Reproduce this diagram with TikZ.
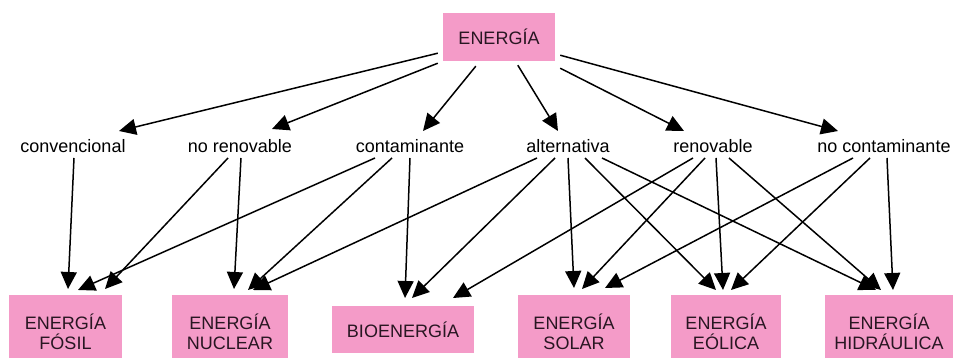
\documentclass[tikz,border=0pt]{standalone}
\usepackage{fontspec}
\setmainfont{Liberation Sans}
\usetikzlibrary{arrows.meta,calc}
\definecolor{boxpink}{RGB}{244,155,200}
\definecolor{txt}{RGB}{40,22,34}
\begin{document}
\begin{tikzpicture}[x=1pt,y=-1pt,
  box/.style={rectangle, fill=boxpink, inner sep=0pt, anchor=north, align=center, font=\fontsize{18}{20}\selectfont, text=txt},
  lab/.style={inner sep=0pt, anchor=base, font=\fontsize{18}{20}\selectfont, text=black},
  arr/.style={line width=1.5pt, -{Triangle[length=17pt,width=16pt]}}]
\useasboundingbox (0,0) rectangle (956,358);
\clip (0,0) rectangle (956,358);
\fill[white] (0,0) rectangle (956,358);

\node[box, anchor=center, minimum width=112pt, minimum height=48pt] (top) at (499,37) {ENERGÍA};

\node[lab] (conv) at (73,153) {convencional};
\node[lab] (norenov) at (240,153) {no renovable};
\node[lab] (contam) at (410,153) {contaminante};
\node[lab] (alter) at (568,153) {alternativa};
\node[lab] (renov) at (713,153) {renovable};
\node[lab] (nocont) at (884,153) {no contaminante};

\node[box, minimum width=113pt, minimum height=73pt] (fosil) at (65.5,295) {ENERGÍA\\FÓSIL};
\node[box, minimum width=116pt, minimum height=73pt] (nuclear) at (230,295) {ENERGÍA\\NUCLEAR};
\node[box, minimum width=142pt, minimum height=47pt] (bio) at (403,306) {BIOENERGÍA};
\node[box, minimum width=112pt, minimum height=73pt] (solar) at (574,295) {ENERGÍA\\SOLAR};
\node[box, minimum width=110pt, minimum height=73pt] (eolica) at (726,295) {ENERGÍA\\EÓLICA};
\node[box, minimum width=128pt, minimum height=73pt] (hidra) at (889,295) {ENERGÍA\\HIDRÁULICA};

% top level
\draw[arr] ($(top.south west)+(-5,-8)$) -- ($(conv.base)+(46,-22)$);
\draw[arr] ($(top.south west)+(-5,2)$) -- ($(norenov.base)+(32,-24)$);
\draw[arr] ($(top.south west)+(33,5)$) -- ($(contam.base)+(13,-22)$);
\draw[arr] ($(top.south west)+(75,4)$) -- ($(alter.base)+(-10,-22)$);
\draw[arr] ($(top.south east)+(5,7)$) -- ($(renov.base)+(-29,-22)$);
\draw[arr] ($(top.south east)+(5,-6)$) -- ($(nocont.base)+(-46,-22)$);

% convencional
\draw[arr] ($(conv.base)+(1,5)$) -- ($(fosil.north)+(2.5,-6)$);
% no renovable
\draw[arr] ($(norenov.base)+(-12,5)$) -- ($(fosil.north)+(39.5,-6)$);
\draw[arr] ($(norenov.base)+(1,5)$) -- ($(nuclear.north)+(4,-6)$);
% contaminante
\draw[arr] ($(contam.base)+(-35,5)$) -- ($(fosil.north)+(12.5,-5)$);
\draw[arr] ($(contam.base)+(-18,5)$) -- ($(nuclear.north)+(18,-5)$);
\draw[arr] ($(contam.base)+(0,5)$) -- ($(bio.north)+(2,-8)$);
% alternativa
\draw[arr] ($(alter.base)+(-31,5)$) -- ($(nuclear.north)+(23,-5)$);
\draw[arr] ($(alter.base)+(-13,5)$) -- ($(bio.north)+(9,-8)$);
\draw[arr] ($(alter.base)+(0,5)$) -- ($(solar.north)+(0,-7)$);
\draw[arr] ($(alter.base)+(17,5)$) -- ($(eolica.north)+(-10,-5)$);
\draw[arr] ($(alter.base)+(34,5)$) -- ($(hidra.north)+(-13,-5)$);
% renovable
\draw[arr] ($(renov.base)+(-20,5)$) -- ($(bio.north)+(50,-8)$);
\draw[arr] ($(renov.base)+(-8,5)$) -- ($(solar.north)+(8,-6)$);
\draw[arr] ($(renov.base)+(3,5)$) -- ($(eolica.north)+(-3,-5)$);
\draw[arr] ($(renov.base)+(16,5)$) -- ($(hidra.north)+(-8,-5)$);
% no contaminante
\draw[arr] ($(nocont.base)+(-31,5)$) -- ($(solar.north)+(31,-7)$);
\draw[arr] ($(nocont.base)+(-14,5)$) -- ($(eolica.north)+(5,-5)$);
\draw[arr] ($(nocont.base)+(3,5)$) -- ($(hidra.north)+(4,-5)$);
\end{tikzpicture}
\end{document}
